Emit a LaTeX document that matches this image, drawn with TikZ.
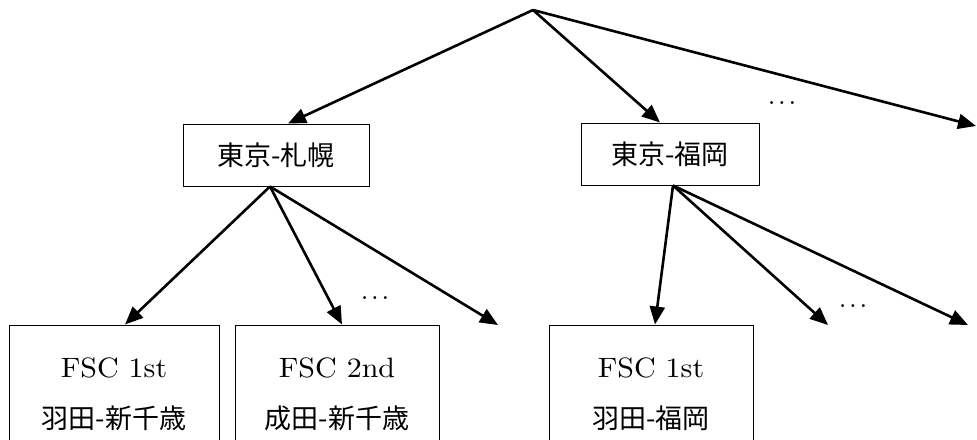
\documentclass[tikz,border=0pt]{standalone}
\usepackage{fontspec}
\usepackage{graphicx}
\newfontfamily\jpfont{Noto Sans CJK JP}
\usetikzlibrary{arrows.meta,calc}
\newcommand{\BigLat}[1]{\scalebox{3.0}[2.8]{\fontsize{10}{12}\selectfont #1}}
\newcommand{\BigDots}{\scalebox{2.75}{\fontsize{10}{12}\selectfont .\hspace{0.1em}.\hspace{0.1em}.}}
\begin{document}
\begin{tikzpicture}[x=1pt,y=-1pt,
  box/.style={draw, line width=1pt, inner sep=0pt, align=center, font=\fontsize{27}{51}\selectfont},
  arr/.style={line width=2.6pt, -{Triangle[length=18pt,width=15pt]}},
  dotsnode/.style={inner sep=0pt}]
\useasboundingbox (0,0) rectangle (977,439);
\clip (0,0) rectangle (977,439);
\fill[white] (0,0) rectangle (977,439);

\coordinate (root) at (533,10);
\node[box, minimum width=186pt, minimum height=62pt] (b1) at (276,155) {\jpfont 東京-札幌};
\node[box, minimum width=178pt, minimum height=62pt] (b2) at (670,154) {\jpfont 東京-福岡};

\node[box, minimum width=210pt, minimum height=138pt] (c1) at (114,394) {\BigLat{FSC 1st}\\{\jpfont 羽田-新千歳}};
\node[box, minimum width=204pt, minimum height=138pt] (c2) at (337,394) {\BigLat{FSC 2nd}\\{\jpfont 成田-新千歳}};
\node[box, minimum width=204pt, minimum height=138pt] (c3) at (651,394) {\BigLat{FSC 1st}\\{\jpfont 羽田-福岡}};

\coordinate (e1) at (976,126);
\coordinate (e2) at (498,325);
\coordinate (e3) at (828,325);
\coordinate (e4) at (968,325);

\node[dotsnode] (d1) at (782,103) {\BigDots};
\node[dotsnode] (d2) at (375,298) {\BigDots};
\node[dotsnode] (d3) at (853,306) {\BigDots};

\draw[arr] (root) -- ($(b1.north)+(12,0)$);
\draw[arr] (root) -- ($(b2.north)+(-10,0)$);
\draw[arr] (root) -- (e1);

\coordinate (s1) at ($(b1.south)+(-6,0)$);
\draw[arr] (s1) -- ($(c1.north)+(11,0)$);
\draw[arr] (s1) -- ($(c2.north)+(5,0)$);
\draw[arr] (s1) -- (e2);

\coordinate (s2) at ($(b2.south)+(3,0)$);
\draw[arr] (s2) -- ($(c3.north)+(4,0)$);
\draw[arr] (s2) -- (e3);
\draw[arr] (s2) -- (e4);
\end{tikzpicture}
\end{document}
